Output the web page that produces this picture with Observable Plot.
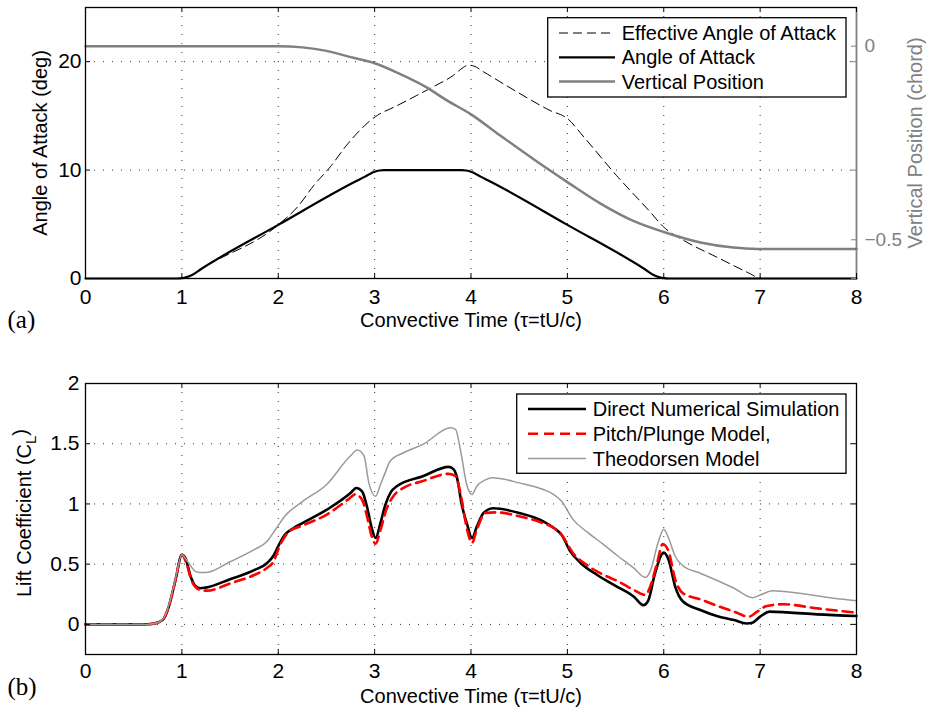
<!DOCTYPE html>
<html><head><meta charset="utf-8">
<script src="https://cdn.jsdelivr.net/npm/d3@7"></script>
<script src="https://cdn.jsdelivr.net/npm/@observablehq/plot@0.6"></script>
<style>
body{margin:0;background:#fff;}
#chart{position:relative;width:926px;height:708px;background:#fff;overflow:hidden;}
#chart svg{position:absolute;left:0;display:block;}
</style></head><body><div id="chart"></div>
<script>
// ---------------- data ----------------
const xTicks = [0, 1, 2, 3, 4, 5, 6, 7, 8];
const aoaTicks = [0, 10, 20];
const posTicks = [0, -0.5];
const posTickLabels = ["0", "\u22120.5"];
const clTicks = [0, 0.5, 1, 1.5, 2];
const xDomain = [0, 8];
const aoaDomain = [0, 25];
const posDomain = [-0.6, 0.1];
const clDomain = [-0.25, 2];

// (a) angle of attack (deg)
const aoaT = [0, 0.95, 1.0, 1.05, 1.1, 1.2, 2.0, 2.8, 2.9, 2.95, 3.0, 3.05, 3.1, 3.9, 3.95, 4.0, 4.05, 4.1, 4.2, 5.0, 5.8, 5.9, 5.95, 6.0, 6.05, 8.0];
const aoaV = [0, 0, 0.03, 0.13, 0.3, 0.88, 4.95, 8.95, 9.4, 9.65, 9.85, 9.96, 10, 10, 9.96, 9.85, 9.65, 9.4, 8.95, 4.95, 0.88, 0.3, 0.13, 0.03, 0, 0];
// effective angle of attack (deg)
const effT = [0, 0.95, 1.0, 1.05, 1.1, 1.2, 2.0, 2.2, 2.37, 2.54, 2.71, 2.92, 3.03, 3.2, 3.41, 3.61, 3.82, 3.92, 3.97, 4.03, 4.13, 4.48, 4.82, 5.0, 5.17, 5.51, 5.86, 6.0, 6.21, 6.55, 6.9, 7.0, 8.0];
const effV = [0, 0, 0.03, 0.13, 0.3, 0.88, 4.95, 6.6, 8.6, 10.3, 12.3, 14.3, 15.06, 15.8, 16.76, 17.7, 18.76, 19.47, 19.68, 19.6, 19.07, 17.2, 15.5, 14.76, 13.06, 9.5, 6.13, 4.74, 3.5, 1.97, 0.43, 0, 0];
// vertical position (chord)
const posT = [0, 2.0, 2.25, 2.5, 2.78, 3.0, 3.25, 3.53, 3.75, 4.0, 4.3, 4.65, 5.0, 5.34, 5.69, 6.0, 6.38, 6.72, 6.9, 7.0, 8.0];
const posV = [0, 0, -0.003, -0.012, -0.03, -0.044, -0.07, -0.105, -0.14, -0.176, -0.23, -0.292, -0.351, -0.406, -0.452, -0.48, -0.507, -0.52, -0.523, -0.524, -0.524];

// (b) lift coefficient
const dnsT = [0, 0.6, 0.7, 0.8, 0.865, 0.934, 1.0, 1.037, 1.09, 1.14, 1.19, 1.245, 1.5, 1.75, 1.885, 1.95, 2.0, 2.07, 2.16, 2.25, 2.5, 2.75, 2.81, 2.87, 2.92, 2.97, 3.01, 3.06, 3.11, 3.17, 3.23, 3.5, 3.77, 3.82, 3.86, 3.9, 3.96, 4.01, 4.06, 4.13, 4.23, 4.5, 4.75, 4.86, 4.94, 5.03, 5.14, 5.31, 5.5, 5.69, 5.79, 5.84, 5.91, 6.0, 6.05, 6.12, 6.2, 6.38, 6.55, 6.73, 6.86, 6.92, 7.0, 7.1, 7.28, 7.59, 8.0];
const dnsCL = [0, 0, 0.005, 0.036, 0.15, 0.37, 0.578, 0.55, 0.40, 0.32, 0.30, 0.305, 0.375, 0.45, 0.51, 0.57, 0.65, 0.745, 0.8, 0.84, 0.95, 1.09, 1.133, 1.105, 0.98, 0.80, 0.717, 0.84, 0.99, 1.1, 1.147, 1.23, 1.308, 1.286, 1.2, 1.01, 0.83, 0.717, 0.81, 0.925, 0.964, 0.925, 0.856, 0.80, 0.744, 0.606, 0.508, 0.41, 0.32, 0.23, 0.16, 0.2, 0.425, 0.597, 0.536, 0.31, 0.19, 0.12, 0.07, 0.036, 0.008, 0.014, 0.064, 0.106, 0.1, 0.083, 0.07];
const ppT = [0, 0.6, 0.7, 0.8, 0.865, 0.934, 1.0, 1.05, 1.106, 1.19, 1.26, 1.5, 1.75, 1.885, 1.95, 2.02, 2.11, 2.25, 2.5, 2.73, 2.8, 2.87, 2.92, 2.97, 3.01, 3.06, 3.12, 3.2, 3.3, 3.5, 3.77, 3.84, 3.89, 3.96, 4.01, 4.06, 4.15, 4.27, 4.5, 4.75, 4.86, 4.94, 5.06, 5.2, 5.38, 5.52, 5.69, 5.81, 5.86, 5.93, 5.99, 6.05, 6.12, 6.2, 6.38, 6.55, 6.73, 6.88, 6.97, 7.07, 7.24, 7.59, 8.0];
const ppCL = [0, 0, 0.005, 0.036, 0.15, 0.37, 0.578, 0.5, 0.355, 0.286, 0.28, 0.34, 0.41, 0.47, 0.52, 0.66, 0.77, 0.82, 0.91, 1.04, 1.08, 1.035, 0.9, 0.73, 0.67, 0.78, 0.95, 1.07, 1.133, 1.19, 1.25, 1.23, 1.09, 0.786, 0.675, 0.786, 0.925, 0.93, 0.897, 0.84, 0.80, 0.744, 0.59, 0.494, 0.41, 0.36, 0.286, 0.244, 0.314, 0.508, 0.667, 0.606, 0.37, 0.258, 0.208, 0.156, 0.106, 0.064, 0.106, 0.153, 0.167, 0.133, 0.097];
const thT = [0, 0.6, 0.7, 0.8, 0.865, 0.934, 1.0, 1.07, 1.14, 1.19, 1.25, 1.5, 1.75, 1.885, 1.97, 2.07, 2.25, 2.5, 2.75, 2.82, 2.89, 2.94, 3.01, 3.06, 3.11, 3.16, 3.3, 3.5, 3.79, 3.84, 3.89, 3.96, 4.01, 4.06, 4.15, 4.22, 4.5, 4.75, 4.86, 4.94, 5.06, 5.2, 5.38, 5.52, 5.69, 5.81, 5.86, 5.94, 6.0, 6.05, 6.12, 6.2, 6.38, 6.73, 6.92, 7.0, 7.13, 7.41, 7.76, 8.0];
const thCL = [0, 0, 0.005, 0.04, 0.16, 0.38, 0.578, 0.51, 0.44, 0.43, 0.43, 0.52, 0.62, 0.69, 0.786, 0.9, 1.02, 1.16, 1.40, 1.447, 1.40, 1.175, 1.064, 1.16, 1.26, 1.355, 1.425, 1.494, 1.633, 1.62, 1.45, 1.147, 1.078, 1.147, 1.2, 1.217, 1.175, 1.12, 1.078, 1.022, 0.87, 0.77, 0.66, 0.57, 0.467, 0.39, 0.44, 0.675, 0.79, 0.717, 0.564, 0.486, 0.425, 0.3, 0.222, 0.244, 0.28, 0.258, 0.217, 0.197];

const xLabel = "Convective Time (\u03c4=tU/c)";
const aoaLabel = "Angle of Attack (deg)";
const posLabel = "Vertical Position (chord)";
const clLabelMain = "Lift Coefficient (C";
const clLabelSub = "L";
const topLegend = ["Effective Angle of Attack", "Angle of Attack", "Vertical Position"];
const bottomLegend = ["Direct Numerical Simulation", "Pitch/Plunge Model,", "Theodorsen Model"];
const panelLabels = ["(a)", "(b)"];

// ---------------- helpers ----------------
const zip = (ts, vs) => ts.map((t, i) => ({t, v: vs[i]}));
const FONT = '"Liberation Sans", Arial, Helvetica, sans-serif';
const SERIF = '"Liberation Serif", "Times New Roman", serif';
const FS = 20;      // labels & legend
const TFS = 21;     // tick labels
const GRAY = "#808080";
const LGRAY = "#9a9a9a";
const EFF_DASH = "9,5";
const W = 926, ML = 85, MR = 70;
const IW = W - ML - MR;   // inner width
const IH = 271;           // inner height of each panel
const TICK = 5;
const grid = {stroke: "#000", strokeOpacity: 0.8, strokeWidth: 1, strokeDasharray: "1,8"};
const toLeft = d3.scaleLinear().domain(posDomain).range(aoaDomain);
const lbl = {text: d => d, fontSize: FS, textAnchor: "middle", lineAnchor: "middle"};

function inwardTicks(xs, ys, color = "#000") {
  return [
    Plot.tickX(xs, {x: d => d, insetTop: IH - TICK, stroke: color}),
    Plot.tickX(xs, {x: d => d, insetBottom: IH - TICK, stroke: color}),
    Plot.tickY(ys, {y: d => d, insetRight: IW - TICK, stroke: color})
  ];
}

function legend(svg, box, items) {
  const g = d3.select(svg).append("g").attr("font-family", FONT).attr("font-size", FS).attr("text-anchor", "start");
  g.append("rect").attr("x", box.x).attr("y", box.y).attr("width", box.w).attr("height", box.h)
    .attr("fill", "white").attr("stroke", "#000").attr("stroke-width", 1.3);
  items.forEach((it, i) => {
    const y = box.y0 + i * box.dy;
    g.append("line").attr("x1", box.lx1).attr("x2", box.lx2).attr("y1", y).attr("y2", y)
      .attr("stroke", it.stroke).attr("stroke-width", it.width)
      .attr("stroke-dasharray", it.dash || null);
    g.append("text").attr("x", box.tx).attr("y", y).attr("dy", "0.35em").attr("fill", "#000").text(it.label);
  });
}

// ---------------- panel (a) ----------------
const topPlot = Plot.plot({
  width: W, height: 340,
  marginLeft: ML, marginRight: MR, marginTop: 7, marginBottom: 62,
  style: {fontFamily: FONT, fontSize: TFS + "px", background: "white", color: "#000", overflow: "visible"},
  x: {domain: xDomain},
  y: {domain: aoaDomain},
  marks: [
    Plot.gridX(xTicks.slice(1, -1), grid),
    Plot.gridY(aoaTicks.slice(1), grid),
    Plot.line(zip(effT, effV), {x: "t", y: "v", stroke: "#000", strokeWidth: 1, strokeDasharray: EFF_DASH, curve: "monotone-x"}),
    Plot.line(zip(aoaT, aoaV), {x: "t", y: "v", stroke: "#000", strokeWidth: 2.2, curve: "monotone-x"}),
    Plot.line(zip(posT, posV), {x: "t", y: d => toLeft(d.v), stroke: GRAY, strokeWidth: 2.5, curve: "monotone-x"}),
    Plot.frame({stroke: "#000", strokeWidth: 1.3}),
    Plot.ruleX([xDomain[1]], {stroke: GRAY, strokeWidth: 1.3}),
    ...inwardTicks(xTicks, aoaTicks),
    Plot.tickY(aoaTicks, {y: d => d, insetLeft: IW - TICK, stroke: GRAY}),
    Plot.tickY(posTicks, {y: d => toLeft(d), insetLeft: IW - TICK, stroke: GRAY}),
    Plot.axisX(xTicks, {tickSize: 0, tickPadding: 11, label: null}),
    Plot.axisY(aoaTicks, {tickSize: 0, tickPadding: 4, label: null}),
    Plot.axisY(posTicks.map(toLeft), {anchor: "right", tickSize: 0, tickPadding: 8, label: null, fontSize: 19,
      tickFormat: (d, i) => posTickLabels[i], color: GRAY}),
    Plot.text([xLabel], {...lbl, frameAnchor: "bottom", dy: 42}),
    Plot.text([aoaLabel], {...lbl, frameAnchor: "left", rotate: -90, dx: -45}),
    Plot.text([posLabel], {...lbl, frameAnchor: "right", rotate: -90, dx: 59, fill: GRAY}),
    Plot.text([panelLabels[0]], {...lbl, frameAnchor: "bottom-left", textAnchor: "start", dx: -78, dy: 41, fontSize: 25, fontFamily: SERIF})
  ]
});
topPlot.style.top = "0px";
legend(topPlot, {x: 547.7, y: 17.7, w: 298.3, h: 79.3, y0: 33, dy: 24.3, lx1: 559, lx2: 615, tx: 621.7}, [
  {label: topLegend[0], stroke: "#000", width: 1, dash: EFF_DASH},
  {label: topLegend[1], stroke: "#000", width: 2.2},
  {label: topLegend[2], stroke: GRAY, width: 2.5}
]);

// ---------------- panel (b) ----------------
const botPlot = Plot.plot({
  width: W, height: 368,
  marginLeft: ML, marginRight: MR, marginTop: 43, marginBottom: 54,
  style: {fontFamily: FONT, fontSize: TFS + "px", background: "white", color: "#000", overflow: "visible"},
  x: {domain: xDomain},
  y: {domain: clDomain},
  marks: [
    Plot.gridX(xTicks.slice(1, -1), grid),
    Plot.gridY(clTicks.slice(0, -1), grid),
    Plot.line(zip(dnsT, dnsCL), {x: "t", y: "v", stroke: "#000", strokeWidth: 2.6, curve: "monotone-x"}),
    Plot.line(zip(ppT, ppCL), {x: "t", y: "v", stroke: "#ff0000", strokeWidth: 2.6, strokeDasharray: "10,6", curve: "monotone-x"}),
    Plot.line(zip(thT, thCL), {x: "t", y: "v", stroke: LGRAY, strokeWidth: 1.5, curve: "monotone-x"}),
    Plot.frame({stroke: "#000", strokeWidth: 1.3}),
    ...inwardTicks(xTicks, clTicks),
    Plot.tickY(clTicks, {y: d => d, insetLeft: IW - TICK, stroke: "#000"}),
    Plot.axisX(xTicks, {tickSize: 0, tickPadding: 9, label: null}),
    Plot.axisY(clTicks, {tickSize: 0, tickPadding: 6, label: null, tickFormat: d3.format("~g")}),
    Plot.text([xLabel], {...lbl, frameAnchor: "bottom", dy: 42}),
    Plot.text([clLabelMain], {...lbl, frameAnchor: "left", rotate: -90, dx: -61, dy: -6}),
    Plot.text([panelLabels[1]], {...lbl, frameAnchor: "bottom-left", textAnchor: "start", dx: -78, dy: 32, fontSize: 25, fontFamily: SERIF})
  ]
});
botPlot.style.top = "340px";
// subscript on the lift-coefficient label
d3.select(botPlot).selectAll("text").filter(function () { return this.textContent === clLabelMain; })
  .each(function () {
    const t = d3.select(this);
    t.text(null);
    t.append("tspan").text(clLabelMain);
    t.append("tspan").attr("dy", "0.35em").attr("font-size", 15).text(clLabelSub);
    t.append("tspan").attr("dy", "-0.45em").text(")");
  });
legend(botPlot, {x: 516.7, y: 54, w: 329.3, h: 79.3, y0: 69, dy: 24.8, lx1: 528, lx2: 586, tx: 592.7}, [
  {label: bottomLegend[0], stroke: "#000", width: 2.6},
  {label: bottomLegend[1], stroke: "#ff0000", width: 2.6, dash: "10,6"},
  {label: bottomLegend[2], stroke: LGRAY, width: 1.5}
]);

const chart = document.getElementById("chart");
chart.appendChild(topPlot);
chart.appendChild(botPlot);
</script></body></html>
